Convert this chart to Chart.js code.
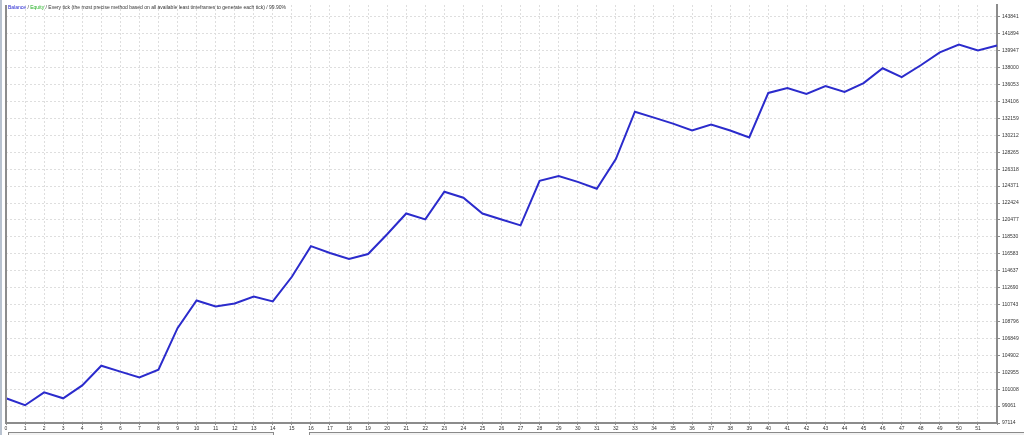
<!DOCTYPE html>
<html>
<head>
<meta charset="utf-8">
<script src="https://cdn.jsdelivr.net/npm/chart.js@4"></script>
<style>
  body { margin: 0; background: #fff; }
  #wrap { position: relative; width: 1024px; height: 435px; overflow: hidden; }
  #leftStrip { position: absolute; left: 0; top: 0; width: 2px; height: 435px; background: #b9c3d0; }
  #caption { position: absolute; left: 8px; top: 4px; font: 5px "Liberation Sans", Arial, sans-serif; color: #333; white-space: nowrap; }
  .bar { position: absolute; top: 432px; height: 6px; border: 1px solid #8a8a8a; border-bottom: none; background: #f2f2f2; }
</style>
</head>
<body>
<div id="wrap">
  <canvas id="myChart" width="1024" height="435"></canvas>
  <div id="leftStrip"></div>
  <div id="caption"><span style="color:#1c1cd0">Balance</span> / <span style="color:#22b022">Equity</span> / Every tick (the most precise method based on all available least timeframes to generate each tick) / 99.90%</div>
  <div class="bar" style="left:8px;width:264px"></div>
  <div class="bar" style="left:309px;width:720px"></div>
</div>
<script>
// trade numbers along the bottom
var tradeLabels = ['0','1','2','3','4','5','6','7','8','9','10','11','12','13','14','15','16','17','18','19','20',
    '21','22','23','24','25','26','27','28','29','30','31','32','33','34','35','36','37','38','39','40',
    '41','42','43','44','45','46','47','48','49','50','51','52']

// balance after each trade
var balance = [99956, 99160, 100638, 99956, 101434, 103708, 103026, 102344, 103253, 108028,
    111212, 110529, 110871, 111666, 111098, 113940, 117465, 116669, 115987, 116555,
    118829, 121216, 120534, 123717, 123035, 121216, 120534, 119852, 124968, 125537,
    124854, 124059, 127469, 132926, 132244, 131562, 130766, 131448, 130766, 129970,
    135086, 135655, 134973, 135882, 135200, 136223, 137929, 136906, 138270, 139748,
    140657, 139975, 140544]

// right axis labels
var yTicks = [97114, 99061, 101008, 102955, 104902, 106849, 108796, 110743, 112690, 114637,
    116583, 118530, 120477, 122424, 124371, 126318, 128265, 130212, 132159, 134106,
    136053, 138000, 139947, 141894, 143841]

var gridColor = '#dedede'
var frameColor = '#8c8c8c'

const framePlugin = {
    id: 'frame',
    afterDraw(chart) {
        const ctx = chart.ctx
        const a = chart.chartArea
        ctx.save()
        ctx.strokeStyle = frameColor
        ctx.lineWidth = 2
        ctx.beginPath()
        ctx.moveTo(a.left, a.top)
        ctx.lineTo(a.left, a.bottom)
        ctx.stroke()
        ctx.restore()
    }
}

let myChart = document.getElementById('myChart').getContext('2d')

var balanceChart = new Chart(myChart, {
    type: 'line',
    data: {
        labels: tradeLabels,
        datasets: [{
            label: 'Balance',
            data: balance,
            borderColor: '#2b2bcc',
            borderWidth: 2,
            pointRadius: 0,
            tension: 0,
            fill: false
        }]
    },
    options: {
        responsive: false,
        animation: false,
        events: [],
        layout: { padding: { left: 6, top: 0, right: 0, bottom: 0 } },
        plugins: { legend: { display: false }, tooltip: { enabled: false } },
        scales: {
            x: {
                offset: false,
                grid: {
                    color: gridColor,
                    tickLength: 2,
                    tickColor: frameColor,
                    tickBorderDash: []
                },
                border: { color: frameColor, width: 2, dash: [2, 2] },
                ticks: {
                    autoSkip: false,
                    maxRotation: 0,
                    padding: 1,
                    color: '#333',
                    font: { family: 'Liberation Sans', size: 5 },
                    callback: function (v, i) { return i == tradeLabels.length - 1 ? '' : tradeLabels[i] }
                },
                afterFit: function (scale) { scale.height = 12 }
            },
            y: {
                position: 'right',
                min: 97114,
                max: 145205,
                afterBuildTicks: function (scale) {
                    scale.ticks = yTicks.map(v => ({ value: v }))
                },
                grid: {
                    color: gridColor,
                    tickLength: 3,
                    tickColor: frameColor,
                    tickBorderDash: []
                },
                border: { color: frameColor, width: 2, dash: [2, 2] },
                ticks: {
                    padding: 2,
                    color: '#333',
                    font: { family: 'Liberation Sans', size: 5 },
                    callback: function (v) { return String(v) }
                },
                afterFit: function (scale) { scale.width = 27 }
            }
        }
    },
    plugins: [framePlugin]
})
</script>
</body>
</html>
